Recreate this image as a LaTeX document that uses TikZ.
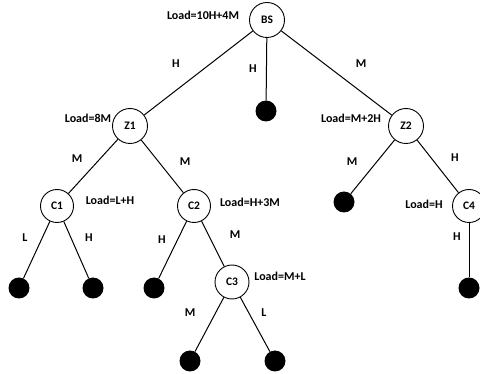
\documentclass[tikz,border=0pt]{standalone}
\usepackage{fontspec}
\setmainfont{Carlito}
\begin{document}
\begin{tikzpicture}[x=1pt,y=-1pt,
  nd/.style={circle,draw=black,line width=0.9pt,fill=white,minimum size=35pt,inner sep=0pt,font=\fontsize{11.5}{13}\selectfont\bfseries},
  leaf/.style={circle,fill=black,minimum size=21pt,inner sep=0pt},
  lbl/.style={font=\fontsize{12}{14}\selectfont\bfseries,inner sep=0pt},
  edge/.style={line width=1pt,draw=black}]
\useasboundingbox (0,0) rectangle (480,374);
\clip (0,0) rectangle (480,374);
% nodes
\node[nd] (BS) at (267,20) {BS};
\node[nd] (Z1) at (130,126) {Z1};
\node[nd] (Z2) at (406,126) {Z2};
\node[nd,minimum size=33pt] (C1) at (57,206) {C1};
\node[nd,minimum size=33pt] (C2) at (194,206) {C2};
\node[nd,minimum size=34pt] (C3) at (232,282) {C3};
\node[nd,minimum size=33pt] (C4) at (469,206) {C4};
\node[leaf] (L0) at (266,111) {};
\node[leaf] (L1) at (344,202) {};
\node[leaf] (L2) at (19,288) {};
\node[leaf] (L3) at (93,288) {};
\node[leaf] (L4) at (154,288) {};
\node[leaf] (L5) at (469,288) {};
\node[leaf] (L6) at (190,361) {};
\node[leaf] (L7) at (275,361) {};
% edges
\draw[edge] (BS) -- (Z1);
\draw[edge] (BS) -- (L0);
\draw[edge] (BS) -- (Z2);
\draw[edge] (Z1) -- (C1);
\draw[edge] (Z1) -- (C2);
\draw[edge] (Z2) -- (L1);
\draw[edge] (Z2) -- (C4);
\draw[edge] (C1) -- (L2);
\draw[edge] (C1) -- (L3);
\draw[edge] (C2) -- (L4);
\draw[edge] (C2) -- (C3);
\draw[edge] (C4) -- (L5);
\draw[edge] (C3) -- (L6);
\draw[edge] (C3) -- (L7);
% load labels
\node[lbl] (lBS) at (203,15) {Load=10H+4M};
\node[lbl] (lZ1) at (88,118) {Load=8M};
\node[lbl] (lZ2) at (351,118) {Load=M+2H};
\node[lbl] (lC1) at (110,200) {Load=L+H};
\node[lbl] (lC2) at (250,202) {Load=H+3M};
\node[lbl] (lC4) at (424,204) {Load=H};
\node[lbl] (lC3) at (280,276) {Load=M+L};
% edge labels
\node[lbl] (e1) at (176,64) {H};
\node[lbl] (e2) at (253,69) {H};
\node[lbl] (e3) at (361,64) {M};
\node[lbl] (e4) at (77,159) {M};
\node[lbl] (e5) at (185,162) {M};
\node[lbl] (e6) at (352,162) {M};
\node[lbl] (e7) at (455,158) {H};
\node[lbl] (e8) at (25,238) {L};
\node[lbl] (e9) at (89,238) {H};
\node[lbl] (e10) at (162,240) {H};
\node[lbl] (e11) at (235,235) {M};
\node[lbl] (e12) at (457,237) {H};
\node[lbl] (e13) at (190,313) {M};
\node[lbl] (e14) at (264,313) {L};
\end{tikzpicture}
\end{document}
